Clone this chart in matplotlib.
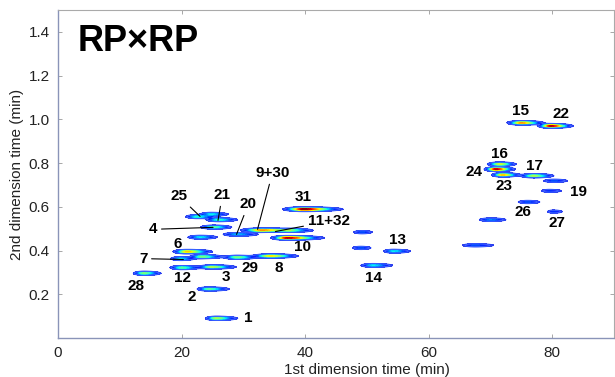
import numpy as np
import matplotlib
matplotlib.use("Agg")
import matplotlib.pyplot as plt
from matplotlib.colors import ListedColormap

plt.rcParams['font.family'] = ['Liberation Sans', 'DejaVu Sans']

# peaks: 1st dim time, 2nd dim time, height, left / right width (min)
peak_x = [25.6, 24.4, 13.9, 20.0, 24.9, 19.8, 20.9, 23.3, 29.0, 34.4,
          37.1, 33.0, 37.6, 25.2, 29.0, 23.0, 22.5, 26.0, 24.8, 39.8,
          49.2, 49.0, 54.3, 51.0, 67.5, 70.0, 76.0, 79.5, 80.2, 75.0,
          79.8, 71.5, 70.9, 72.0, 77.0, 80.3]
peak_y = [0.090, 0.224, 0.296, 0.322, 0.325, 0.363, 0.395, 0.372, 0.369, 0.375,
          0.458, 0.493, 0.492, 0.507, 0.474, 0.461, 0.555, 0.541, 0.566, 0.589,
          0.484, 0.412, 0.397, 0.332, 0.424, 0.541, 0.622, 0.673, 0.578, 0.984,
          0.970, 0.795, 0.772, 0.746, 0.742, 0.719]
peak_h = [0.55, 0.45, 0.50, 0.45, 0.55, 0.35, 0.70, 0.50, 0.50, 0.65,
          0.95, 0.75, 0.35, 0.45, 0.30, 0.35, 0.40, 0.40, 0.35, 1.00,
          0.20, 0.20, 0.35, 0.35, 0.20, 0.25, 0.20, 0.16, 0.18, 0.75,
          0.95, 0.60, 0.95, 0.70, 0.55, 0.20]
peak_sl = [0.8, 0.9, 0.8, 0.9, 1.0, 0.8, 1.0, 0.9, 1.0, 1.3,
           1.1, 1.5, 1.0, 1.0, 1.2, 1.0, 0.9, 1.0, 0.9, 1.4,
           0.8, 0.8, 0.8, 1.0, 1.2, 1.0, 0.9, 0.8, 0.6, 1.0,
           0.9, 0.9, 0.8, 0.8, 1.0, 1.0]
peak_sr = [1.6, 1.6, 1.3, 1.5, 1.8, 1.2, 1.8, 1.6, 1.5, 2.0,
           2.5, 2.8, 1.8, 1.4, 1.8, 1.4, 1.4, 1.5, 1.4, 2.6,
           1.0, 1.0, 1.4, 1.6, 1.8, 1.4, 1.2, 1.3, 0.9, 1.6,
           1.5, 1.2, 1.3, 1.2, 1.5, 1.3]

# peak labels
label_text = ['1', '2', '28', '12', '3', '29', '8', '7', '6', '4', '10', '20',
              '25', '21', '31', '9+30', '11+32', '13', '14', '26', '27', '19',
              '23', '24', '16', '17', '15', '22']
label_x = [30.8, 21.6, 12.6, 20.1, 27.2, 31.1, 35.7, 13.8, 19.3, 15.4, 39.6, 30.8,
           19.6, 26.6, 39.7, 34.7, 43.8, 55.0, 51.1, 75.2, 80.8, 84.2,
           72.2, 67.3, 71.5, 77.2, 74.9, 81.4]
label_y = [0.092, 0.189, 0.239, 0.276, 0.280, 0.322, 0.322, 0.363, 0.428, 0.497, 0.418, 0.611,
           0.648, 0.653, 0.644, 0.754, 0.533, 0.446, 0.276, 0.575, 0.524, 0.667,
           0.694, 0.759, 0.841, 0.786, 1.039, 1.025]

# leader lines: label -> peak
line_label = ['7', '4', '20', '25', '21', '9+30', '11+32']
line_x = [20.3, 25.1, 28.9, 23.0, 25.9, 32.3, 35.2]
line_y = [0.359, 0.506, 0.474, 0.556, 0.538, 0.497, 0.487]

sy = 0.0047
gx = np.arange(0, 90, 0.05)
gy = np.arange(0, 1.5, 0.001)
X, Y = np.meshgrid(gx, gy)
Z = np.zeros_like(X)
for px, py, h, sl, sr in zip(peak_x, peak_y, peak_h, peak_sl, peak_sr):
    s = np.where(X < px, sl, sr)
    Z += h * np.exp(-0.5 * ((X - px) / s) ** 2 - 0.5 * ((Y - py) / sy) ** 2)

jet = plt.cm.jet(np.linspace(0, 1, 256))
n = 40
w = np.linspace(0.5, 0, n)[:, None]
jet[:n, :3] = jet[:n, :3] * (1 - w) + w
cmap = ListedColormap(jet)

fig = plt.figure(figsize=(6.15, 3.77), dpi=100)
ax = fig.add_axes([58 / 615, 1 - 338 / 377, 556 / 615, 328 / 377])

levels = np.linspace(0.05, 1.0, 30)
ax.contourf(X, Y, Z, levels=levels, cmap=cmap, vmin=0, vmax=1.0, extend='max')
ax.contour(X, Y, Z, levels=levels[:2], colors=['#1a3cff', '#3f6bff'], linewidths=0.6)

for t, x, y in zip(label_text, label_x, label_y):
    if t in line_label:
        i = line_label.index(t)
        ax.annotate(t, xy=(line_x[i], line_y[i]), xytext=(x, y), ha='center', va='center',
                    fontsize=11, fontweight='bold',
                    arrowprops=dict(arrowstyle='-', color='k', lw=0.8, shrinkA=1, shrinkB=0))
    else:
        ax.text(x, y, t, ha='center', va='center', fontsize=11, fontweight='bold')

ax.text(0.035, 0.905, 'RP×RP', transform=ax.transAxes, fontsize=26, fontweight='bold',
        ha='left', va='center')

ax.set_xlim(0, 90)
ax.set_ylim(0, 1.5)
ax.set_xticks([0, 20, 40, 60, 80])
ax.set_yticks([0.2, 0.4, 0.6, 0.8, 1.0, 1.2, 1.4])
ax.set_yticklabels(['0.2', '0.4', '0.6', '0.8', '1.0', '1.2', '1.4'])
ax.tick_params(direction='in', top=True, right=True, length=3, width=0.6,
               color='#999999', labelsize=11, labelcolor='#222222', pad=6)
for side in ['left', 'bottom']:
    ax.spines[side].set_color('#8a94b8')
    ax.spines[side].set_linewidth(1.0)
for side in ['top', 'right']:
    ax.spines[side].set_color('#aaaaaa')
    ax.spines[side].set_linewidth(0.8)

ax.set_xlabel('1st dimension time (min)', fontsize=11, color='#222222')
ax.xaxis.set_label_coords(0.556, -0.075)
ax.set_ylabel('2nd dimension time (min)', fontsize=11, color='#222222')
ax.yaxis.set_label_coords(-0.062, 0.5)

fig.savefig('out.png', dpi=100)
